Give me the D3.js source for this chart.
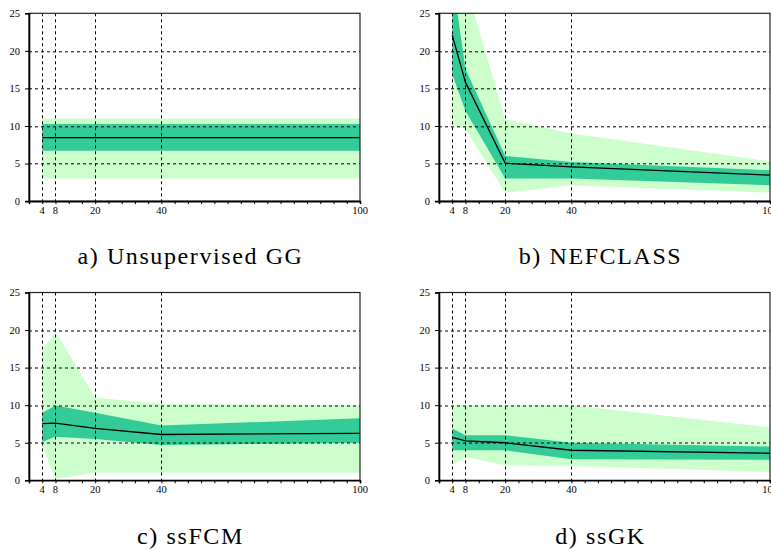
<!DOCTYPE html>
<html>
<head>
<meta charset="utf-8">
<script src="https://cdn.jsdelivr.net/npm/d3@7"></script>
<style>
  html, body { margin: 0; padding: 0; background: #fff; }
  svg { display: block; }
</style>
</head>
<body>
<svg id="chart" width="771" height="550"></svg>
<script>
// Number of labelled samples on the x axis
const sizes = [4, 8, 20, 40, 100];
const xTickLabels = [4, 8, 20, 40, 100];
const yTickValues = [0, 5, 10, 15, 20, 25];
const gridY = [5, 10, 15, 20];

const captions = ["a) Unsupervised GG", "b) NEFCLASS", "c) ssFCM", "d) ssGK"];

// Error rate per method: mean, inner band (dark), outer band (light)
const meanGG     = [8.45, 8.45, 8.45, 8.45, 8.45];
const innerLoGG  = [6.7, 6.7, 6.7, 6.7, 6.7];
const innerHiGG  = [10.25, 10.25, 10.25, 10.25, 10.25];
const outerLoGG  = [3.0, 3.0, 3.0, 3.0, 3.0];
const outerHiGG  = [11.0, 11.0, 11.0, 11.0, 11.0];

const meanNEF    = [22.1, 15.8, 5.05, 4.55, 3.45];
const innerLoNEF = [16.9, 12.0, 3.0, 3.0, 2.1];
const innerHiNEF = [29.9, 17.6, 6.0, 5.2, 4.1];
const outerLoNEF = [10.1, 9.6, 1.1, 2.1, 1.1];
const outerHiNEF = [35.0, 28.9, 10.9, 9.0, 5.3];

const meanFCM    = [7.55, 7.6, 6.9, 6.1, 6.25];
const innerLoFCM = [5.1, 5.8, 5.5, 4.7, 5.0];
const innerHiFCM = [9.0, 9.95, 9.0, 7.3, 8.25];
const outerLoFCM = [4.6, 0.2, 1.0, 1.0, 1.0];
const outerHiFCM = [17.3, 19.8, 11.0, 10.2, 10.0];

const meanGK     = [5.7, 5.25, 5.0, 4.0, 3.6];
const innerLoGK  = [4.0, 4.0, 4.0, 2.8, 2.75];
const innerHiGK  = [6.9, 6.0, 6.0, 5.0, 4.5];
const outerLoGK  = [2.0, 3.1, 2.0, 1.9, 1.1];
const outerHiGK  = [10.0, 10.0, 10.0, 10.0, 7.05];

const panels = [
  { caption: captions[0], mean: meanGG,  lo1: innerLoGG,  hi1: innerHiGG,  lo2: outerLoGG,  hi2: outerHiGG,  left: 29,  top: 13.3 },
  { caption: captions[1], mean: meanNEF, lo1: innerLoNEF, hi1: innerHiNEF, lo2: outerLoNEF, hi2: outerHiNEF, left: 439, top: 13.3 },
  { caption: captions[2], mean: meanFCM, lo1: innerLoFCM, hi1: innerHiFCM, lo2: outerLoFCM, hi2: outerHiFCM, left: 29,  top: 292.5 },
  { caption: captions[3], mean: meanGK,  lo1: innerLoGK,  hi1: innerHiGK,  lo2: outerLoGK,  hi2: outerHiGK,  left: 439, top: 292.5 }
];

const plotW = 331, plotH = 187.8;
const lightGreen = "#ccffcc", darkGreen = "#33cc99";
const svg = d3.select("#chart");
svg.append("rect").attr("width", 771).attr("height", 550).attr("fill", "#fff");

panels.forEach((p, i) => {
  const g = svg.append("g").attr("transform", `translate(${p.left},${p.top})`);
  const x = d3.scaleLinear().domain([0, 100]).range([0, plotW]);
  const y = d3.scaleLinear().domain([0, 25]).range([plotH, 0]);

  const clipId = "clip" + i;
  g.append("clipPath").attr("id", clipId)
    .append("rect").attr("width", plotW).attr("height", plotH);

  const rows = sizes.map((s, k) => ({ s, m: p.mean[k], lo1: p.lo1[k], hi1: p.hi1[k], lo2: p.lo2[k], hi2: p.hi2[k] }));
  const plot = g.append("g").attr("clip-path", `url(#${clipId})`);

  plot.append("path").datum(rows)
    .attr("fill", lightGreen)
    .attr("d", d3.area().x(d => x(d.s)).y0(d => y(d.lo2)).y1(d => y(d.hi2)));
  plot.append("path").datum(rows)
    .attr("fill", darkGreen)
    .attr("d", d3.area().x(d => x(d.s)).y0(d => y(d.lo1)).y1(d => y(d.hi1)));

  // dashed grid
  plot.selectAll("line.gy").data(gridY).join("line")
    .attr("x1", 0).attr("x2", plotW)
    .attr("y1", d => Math.round(y(d)) + 0.5).attr("y2", d => Math.round(y(d)) + 0.5)
    .attr("stroke", "#000").attr("stroke-width", 1).attr("stroke-dasharray", "3,3");
  plot.selectAll("line.gx").data(xTickLabels.filter(v => v < 100)).join("line")
    .attr("x1", d => Math.round(x(d)) + 0.5).attr("x2", d => Math.round(x(d)) + 0.5)
    .attr("y1", 0).attr("y2", plotH)
    .attr("stroke", "#000").attr("stroke-width", 1).attr("stroke-dasharray", "3,3");

  plot.append("path").datum(rows)
    .attr("fill", "none").attr("stroke", "#000").attr("stroke-width", 1.3)
    .attr("d", d3.line().x(d => x(d.s)).y(d => y(d.m)));

  // frame
  g.append("rect").attr("x", 0).attr("y", 0).attr("width", plotW).attr("height", plotH)
    .attr("fill", "none").attr("stroke", "#222").attr("stroke-width", 1.2);

  // x axis: minor ticks every 4, labels at selected sizes
  const xAxis = g.append("g").attr("transform", `translate(0,${plotH})`);
  xAxis.call(d3.axisBottom(x).tickValues(d3.range(0, 101, 4)).tickSize(3).tickFormat(""));
  xAxis.select(".domain").attr("stroke", "#000").attr("stroke-width", 1.6);
  xAxis.selectAll(".tick line").attr("stroke", "#000");
  xAxis.selectAll("text.lbl").data(xTickLabels).join("text")
    .attr("class", "lbl")
    .attr("x", d => x(d)).attr("y", 13)
    .attr("text-anchor", "middle")
    .attr("font-family", "Liberation Serif, Times New Roman, serif")
    .attr("font-size", 10.5).attr("fill", "#000")
    .text(d => d);

  // y axis
  const yAxis = g.append("g");
  yAxis.call(d3.axisLeft(y).tickValues(yTickValues).tickSize(4).tickPadding(5));
  yAxis.select(".domain").attr("stroke", "#000").attr("stroke-width", 1.6);
  yAxis.selectAll(".tick text")
    .attr("font-family", "Liberation Serif, Times New Roman, serif")
    .attr("font-size", 10.5).attr("fill", "#000");

  // caption
  g.append("text")
    .attr("x", plotW / 2 - 4).attr("y", 251)
    .attr("text-anchor", "middle")
    .attr("font-family", "Liberation Serif, Times New Roman, serif")
    .attr("font-size", 24).attr("letter-spacing", 1.6).attr("fill", "#000")
    .text(p.caption);
});
</script>
</body>
</html>
